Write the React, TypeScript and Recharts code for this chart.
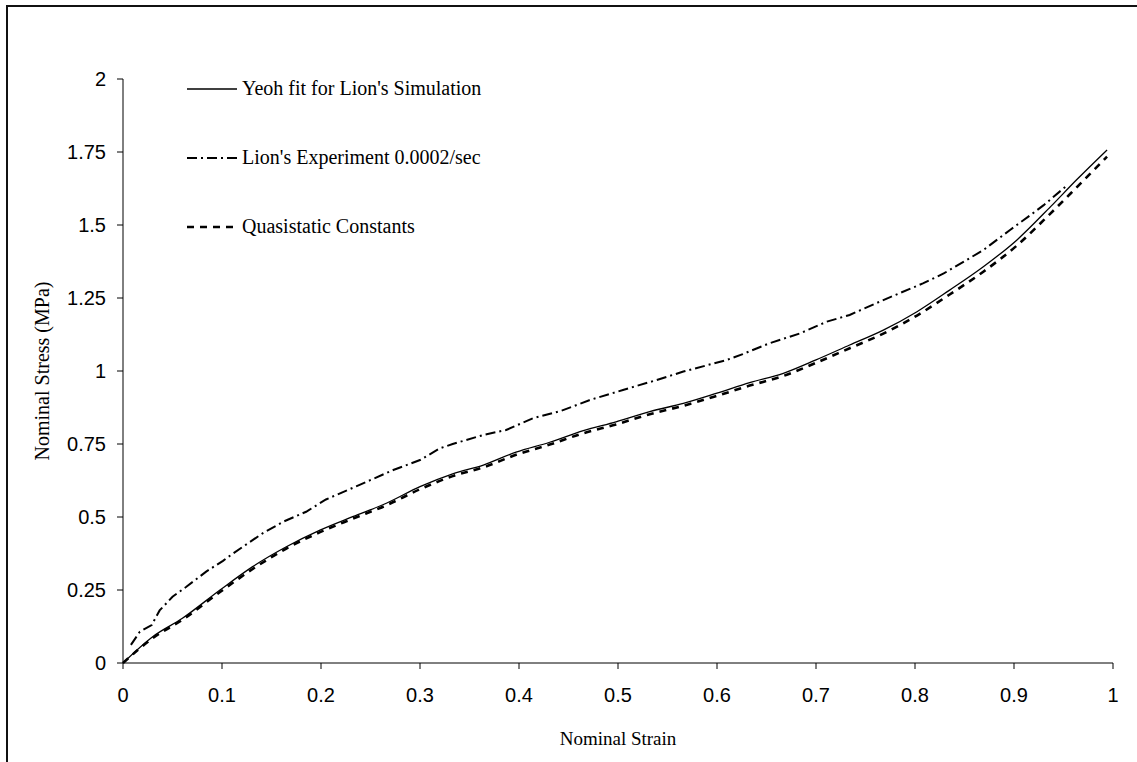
import { LineChart, Line, XAxis, YAxis } from "recharts";

// Lion's experiment 0.0002/sec (dash-dot)
const expStrain = [0.008, 0.017, 0.029, 0.037, 0.05, 0.064, 0.084, 0.101, 0.11, 0.121, 0.141, 0.162, 0.185, 0.205, 0.239, 0.273, 0.3, 0.32, 0.333, 0.364, 0.387, 0.414, 0.443, 0.471, 0.505, 0.539, 0.566, 0.61, 0.626, 0.653, 0.684, 0.711, 0.734, 0.768, 0.808, 0.829, 0.869, 0.896, 0.919, 0.93, 0.952];
const expStress = [0.062, 0.107, 0.13, 0.18, 0.227, 0.261, 0.313, 0.35, 0.372, 0.398, 0.444, 0.484, 0.518, 0.56, 0.61, 0.661, 0.695, 0.735, 0.75, 0.781, 0.798, 0.838, 0.864, 0.9, 0.935, 0.969, 0.998, 1.038, 1.058, 1.095, 1.129, 1.169, 1.192, 1.243, 1.3, 1.334, 1.414, 1.483, 1.54, 1.568, 1.631];

// Yeoh fit for Lion's simulation (solid)
const yeohStrain = [0, 0.03, 0.06, 0.098, 0.131, 0.165, 0.199, 0.232, 0.266, 0.3, 0.333, 0.364, 0.397, 0.431, 0.465, 0.498, 0.532, 0.566, 0.6, 0.633, 0.667, 0.7, 0.734, 0.768, 0.802, 0.835, 0.869, 0.903, 0.937, 0.963, 0.994];
const yeohStress = [0, 0.09, 0.153, 0.25, 0.33, 0.398, 0.455, 0.501, 0.547, 0.604, 0.648, 0.678, 0.722, 0.756, 0.796, 0.826, 0.861, 0.889, 0.924, 0.96, 0.992, 1.038, 1.089, 1.14, 1.203, 1.277, 1.357, 1.449, 1.563, 1.654, 1.757];

// Quasistatic constants (dashed)
const quasiStrain = [0, 0.03, 0.06, 0.098, 0.131, 0.165, 0.199, 0.232, 0.266, 0.3, 0.333, 0.364, 0.397, 0.431, 0.465, 0.498, 0.532, 0.566, 0.6, 0.633, 0.667, 0.7, 0.734, 0.768, 0.802, 0.835, 0.869, 0.903, 0.937, 0.963, 0.994];
const quasiStress = [0, 0.085, 0.148, 0.243, 0.322, 0.392, 0.448, 0.494, 0.54, 0.595, 0.64, 0.67, 0.713, 0.748, 0.787, 0.817, 0.852, 0.881, 0.915, 0.95, 0.983, 1.028, 1.078, 1.128, 1.19, 1.262, 1.34, 1.43, 1.54, 1.628, 1.734];

const xTicks = [0, 0.1, 0.2, 0.3, 0.4, 0.5, 0.6, 0.7, 0.8, 0.9, 1];
const yTicks = [0, 0.25, 0.5, 0.75, 1, 1.25, 1.5, 1.75, 2];

const legendItems = [
  { name: "Yeoh fit for Lion's Simulation", dash: "", width: 1.3 },
  { name: "Lion's Experiment 0.0002/sec", dash: "10 4 2 4", width: 2 },
  { name: "Quasistatic Constants", dash: "7 6", width: 2.6 },
];

const pts = (xs: number[], ys: number[]) => xs.map((x, i) => ({ x, y: ys[i] }));

const tickStyle = { fontFamily: "'Liberation Sans', Arial, sans-serif", fontSize: 20, fill: "#000" };
const titleFont = "'Liberation Serif', 'Times New Roman', serif";

function LegendBox() {
  return (
    <div style={{ position: "absolute", left: 186, top: 54, fontFamily: titleFont, fontSize: 20, color: "#000" }}>
      {legendItems.map((it) => (
        <div key={it.name} style={{ display: "flex", alignItems: "center", height: 69 }}>
          <svg width={52} height={10} style={{ marginRight: 4 }}>
            <line x1={1} y1={5} x2={51} y2={5} stroke="#000" strokeWidth={it.width} strokeDasharray={it.dash || undefined} />
          </svg>
          <span>{it.name}</span>
        </div>
      ))}
    </div>
  );
}

export default function App() {
  return (
    <div style={{ position: "absolute", left: 0, top: 0, width: 1137, height: 762, background: "#fff" }}>
      <div style={{ position: "absolute", left: 6, top: 5, right: 0, bottom: 0, borderTop: "2px solid #111", borderLeft: "2px solid #111" }} />
      <LineChart width={1137} height={762} margin={{ top: 79, right: 24, bottom: 69, left: 63 }}>
        <XAxis
          dataKey="x"
          type="number"
          domain={[0, 1]}
          ticks={xTicks}
          allowDuplicatedCategory={false}
          stroke="#000"
          tickSize={6}
          tickMargin={19}
          tick={tickStyle}
          height={30}
          label={{ value: "Nominal Strain", position: "insideBottom", dy: 57, style: { fontFamily: titleFont, fontSize: 19, fill: "#000" } }}
        />
        <YAxis
          type="number"
          domain={[0, 2]}
          ticks={yTicks}
          stroke="#000"
          tickSize={6}
          tickMargin={11}
          tick={tickStyle}
          width={60}
          label={{ value: "Nominal Stress (MPa)", angle: -90, position: "insideLeft", dx: -26, style: { fontFamily: titleFont, fontSize: 20, fill: "#000", textAnchor: "middle" } }}
        />
        <Line data={pts(quasiStrain, quasiStress)} dataKey="y" type="monotone" stroke="#000" strokeWidth={2.6} strokeDasharray="7 6" dot={false} isAnimationActive={false} />
        <Line data={pts(yeohStrain, yeohStress)} dataKey="y" type="monotone" stroke="#000" strokeWidth={1.3} dot={false} isAnimationActive={false} />
        <Line data={pts(expStrain, expStress)} dataKey="y" type="linear" stroke="#000" strokeWidth={2} strokeDasharray="10 4 2 4" dot={false} isAnimationActive={false} />
      </LineChart>
      <LegendBox />
    </div>
  );
}
